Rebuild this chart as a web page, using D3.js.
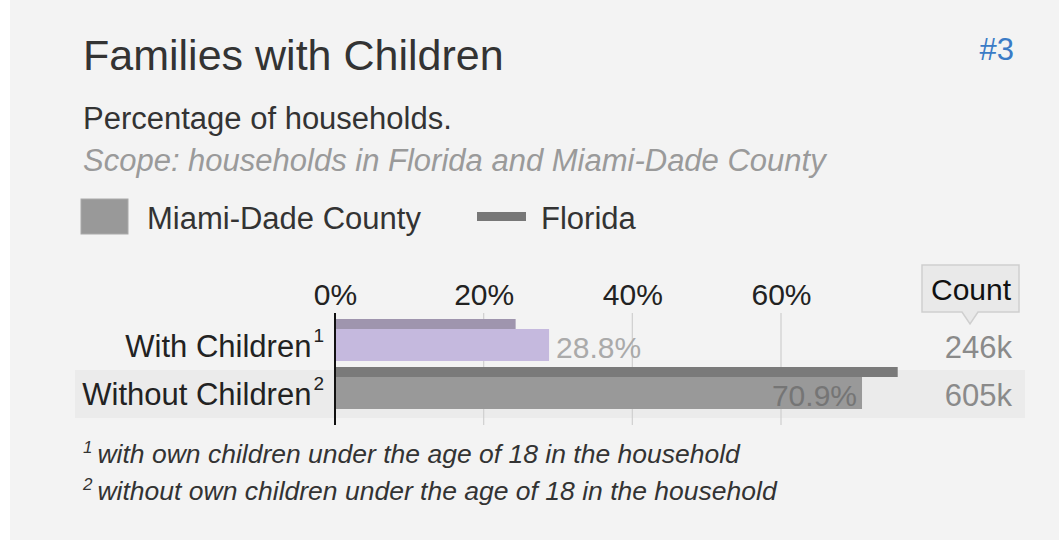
<!DOCTYPE html>
<html>
<head>
<meta charset="utf-8">
<script src="https://cdn.jsdelivr.net/npm/d3@7"></script>
<style>
  body { margin: 0; background: #fff; }
  svg text { font-family: "Liberation Sans", Arial, sans-serif; }
</style>
</head>
<body>
<div id="chart"></div>
<script>
const categories = ["With Children", "Without Children"];
const footMarks = ["1", "2"];
const miamiValues = [28.8, 70.9];
const floridaValues = [24.3, 75.7];
const countLabels = ["246k", "605k"];
const tickValues = [0, 20, 40, 60];
const footnotes = [
  "with own children under the age of 18 in the household",
  "without own children under the age of 18 in the household"
];

function drawFamilies() {
  const fullWidth = 1059,
    fullHeight = 540;

  const svg = d3
    .select("#chart")
    .append("svg")
    .attr("width", fullWidth)
    .attr("height", fullHeight);

  // panel
  svg.append("rect")
    .attr("x", 10).attr("y", 0)
    .attr("width", fullWidth - 10).attr("height", fullHeight)
    .attr("fill", "#f3f3f3");

  svg.append("text")
    .attr("x", 83).attr("y", 70)
    .style("font-size", "43px")
    .style("fill", "#333")
    .text("Families with Children");

  svg.append("text")
    .attr("x", 1014).attr("y", 60)
    .attr("text-anchor", "end")
    .style("font-size", "31px")
    .style("fill", "#3a7bc6")
    .text("#3");

  svg.append("text")
    .attr("x", 83).attr("y", 129)
    .style("font-size", "31px")
    .style("fill", "#333")
    .text("Percentage of households.");

  svg.append("text")
    .attr("x", 83).attr("y", 171)
    .style("font-size", "31px")
    .style("font-style", "italic")
    .style("fill", "#9a9a9a")
    .text("Scope: households in Florida and Miami-Dade County");

  // legend
  svg.append("rect")
    .attr("x", 81).attr("y", 199)
    .attr("width", 47).attr("height", 35)
    .attr("fill", "#999").attr("stroke", "#aaa");
  svg.append("text")
    .attr("x", 147).attr("y", 229)
    .style("font-size", "31px").style("fill", "#333")
    .text("Miami-Dade County");
  svg.append("rect")
    .attr("x", 477).attr("y", 212)
    .attr("width", 49).attr("height", 9)
    .attr("fill", "#777");
  svg.append("text")
    .attr("x", 541).attr("y", 229)
    .style("font-size", "31px").style("fill", "#333")
    .text("Florida");

  const xScale = d3.scaleLinear().domain([0, 60]).range([335, 781]);
  const yScale = d3.scaleBand().domain(categories).range([319, 415]);
  const floridaH = 10, miamiH = 32;

  // highlighted second row
  svg.append("rect")
    .attr("x", 75).attr("y", yScale(categories[1]) + 3)
    .attr("width", 950).attr("height", 48)
    .attr("fill", "#ebebeb");

  // grid
  svg.append("g")
    .selectAll("line")
    .data(tickValues.slice(1))
    .enter()
    .append("line")
    .attr("x1", (d) => xScale(d)).attr("x2", (d) => xScale(d))
    .attr("y1", 313).attr("y2", 425)
    .attr("stroke", "#cfcfcf").attr("stroke-width", 1.2);

  const xAxis = d3.axisTop(xScale)
    .tickValues(tickValues)
    .tickSize(0)
    .tickPadding(0)
    .tickFormat((d) => d + "%");
  const axisG = svg.append("g")
    .attr("transform", "translate(0,305)")
    .call(xAxis);
  axisG.select(".domain").remove();
  axisG.selectAll("text")
    .attr("dy", 0)
    .style("font-size", "30px")
    .style("fill", "#222");

  const rows = categories.map((c, i) => ({
    cat: c, mark: footMarks[i], miami: miamiValues[i],
    florida: floridaValues[i], count: countLabels[i], i: i
  }));

  const miamiColors = ["#c5b9de", "#999999"];
  const floridaColors = ["#9f95ae", "#7a7a7a"];

  svg.selectAll(".fl-bar")
    .data(rows).enter().append("rect")
    .attr("class", "fl-bar")
    .attr("x", xScale(0))
    .attr("y", (d) => yScale(d.cat))
    .attr("width", (d) => xScale(d.florida) - xScale(0))
    .attr("height", floridaH)
    .attr("fill", (d) => floridaColors[d.i]);

  svg.selectAll(".md-bar")
    .data(rows).enter().append("rect")
    .attr("class", "md-bar")
    .attr("x", xScale(0))
    .attr("y", (d) => yScale(d.cat) + floridaH)
    .attr("width", (d) => xScale(d.miami) - xScale(0))
    .attr("height", miamiH)
    .attr("fill", (d) => miamiColors[d.i]);

  // value labels: outside for short bar, inside for long bar
  svg.selectAll(".val")
    .data(rows).enter().append("text")
    .attr("class", "val")
    .attr("x", (d) => d.miami < 50 ? xScale(d.miami) + 7 : xScale(d.miami) - 5)
    .attr("y", (d) => yScale(d.cat) + 39)
    .attr("text-anchor", (d) => d.miami < 50 ? "start" : "end")
    .style("font-size", "30px")
    .style("fill", (d) => d.miami < 50 ? "#aaa" : "#757575")
    .text((d) => d.miami.toFixed(1) + "%");

  // zero line
  svg.append("line")
    .attr("x1", xScale(0)).attr("x2", xScale(0))
    .attr("y1", 313).attr("y2", 425)
    .attr("stroke", "#111").attr("stroke-width", 2);

  // category labels with footnote marks
  const cats = svg.selectAll(".cat")
    .data(rows).enter().append("text")
    .attr("class", "cat")
    .attr("x", 324)
    .attr("y", (d) => yScale(d.cat) + 38)
    .attr("text-anchor", "end")
    .style("font-size", "31px")
    .style("fill", "#222");
  cats.append("tspan").text((d) => d.cat);
  cats.append("tspan")
    .attr("dx", 2).attr("dy", -15)
    .style("font-size", "19px")
    .text((d) => d.mark);

  // count column
  svg.selectAll(".cnt")
    .data(rows).enter().append("text")
    .attr("class", "cnt")
    .attr("x", 1012)
    .attr("y", (d) => yScale(d.cat) + 39)
    .attr("text-anchor", "end")
    .style("font-size", "31px")
    .style("fill", "#8a8a8a")
    .text((d) => d.count);

  svg.append("path")
    .attr("d", "M922,265 H1019 V312 H978 L970,324 L962,312 H922 Z")
    .attr("fill", "#e9e9e9").attr("stroke", "#cfcfcf").attr("stroke-width", 1.5);
  svg.append("text")
    .attr("x", 971).attr("y", 300)
    .attr("text-anchor", "middle")
    .style("font-size", "30px").style("fill", "#111")
    .text("Count");

  // footnotes
  const fn = svg.selectAll(".fn")
    .data(footnotes).enter().append("text")
    .attr("class", "fn")
    .attr("x", 83)
    .attr("y", (d, i) => 463 + i * 37)
    .style("font-size", "26.5px")
    .style("font-style", "italic")
    .style("fill", "#333");
  fn.append("tspan")
    .attr("dy", -10)
    .style("font-size", "17px")
    .text((d, i) => footMarks[i]);
  fn.append("tspan")
    .attr("dx", 5).attr("dy", 10)
    .text((d) => d);
}

drawFamilies();
</script>
</body>
</html>
